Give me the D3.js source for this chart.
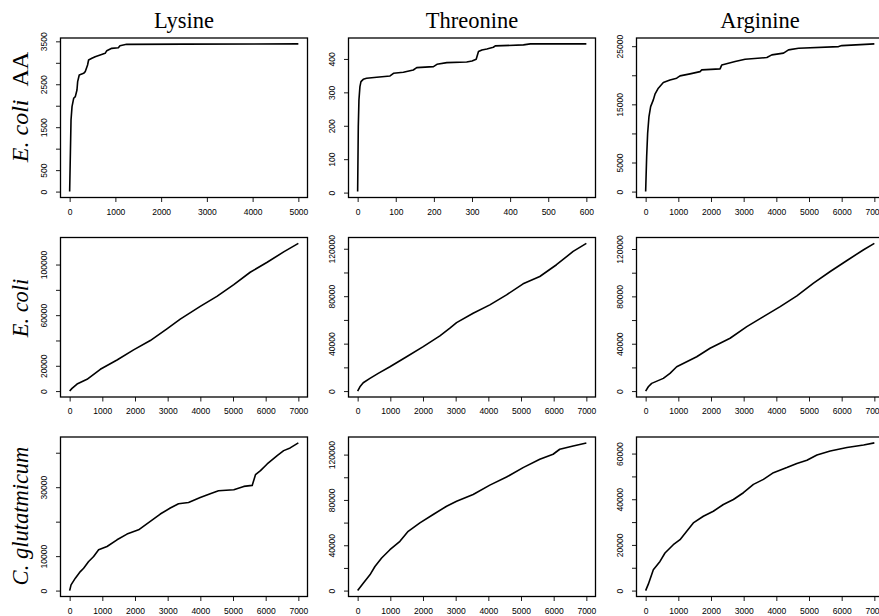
<!DOCTYPE html>
<html>
<head>
<meta charset="utf-8">
<script src="https://cdn.jsdelivr.net/npm/d3@7"></script>
<style>
  body { margin: 0; background: #fff; }
</style>
</head>
<body>
<script>

// column titles and row labels
var aminoAcids = ['Lysine', 'Threonine', 'Arginine'];
var rowLabels = [['E. coli', 'AA'], ['E. coli', ''], ['C. glutatmicum', '']];

// row 1: E. coli AA
var ecoliAALysX = [0, 30, 52, 88, 124, 160, 175, 210, 305, 340, 392, 414, 486, 558, 667, 776, 812, 920, 1065, 1100, 1245, 2500, 5000];
var ecoliAALysY = [0, 1669, 1978, 2173, 2211, 2367, 2560, 2716, 2755, 2793, 2949, 3065, 3104, 3142, 3181, 3220, 3282, 3337, 3350, 3398, 3430, 3436, 3440];

var ecoliAAThrX = [0, 1.7, 3.4, 6, 8.7, 14.7, 23.5, 50, 85, 94, 120, 146, 155, 199, 208, 234, 286, 300, 311, 317, 326, 339, 356, 361, 435, 453, 600];
var ecoliAAThrY = [3, 197, 277, 317, 332, 339, 342, 345, 349, 357, 360, 367, 374, 377, 384, 389, 391, 394, 399, 422, 427, 430, 435, 439, 442, 445, 445];

var ecoliAAArgX = [0, 31, 61, 102, 153, 235, 286, 388, 541, 745, 950, 1052, 1358, 1665, 1717, 2278, 2330, 2738, 3044, 3710, 3862, 4220, 4372, 4680, 5905, 6007, 7000];
var ecoliAAArgY = [0, 6018, 10040, 12900, 14615, 15770, 16750, 17780, 18740, 19200, 19500, 19890, 20240, 20630, 20920, 21100, 21780, 22350, 22760, 23040, 23500, 23800, 24360, 24650, 24930, 25100, 25390];

// row 2: E. coli
var ecoliLysX = [0, 73, 226, 532, 939, 1450, 1957, 2468, 2978, 3385, 3997, 4507, 5024, 5526, 6046, 6551, 7000];
var ecoliLysY = [0, 2140, 5560, 9290, 17220, 24600, 32540, 39920, 49200, 56900, 66900, 74840, 84100, 93900, 101800, 110000, 116700];

var ecoliThrX = [0, 70, 171, 376, 630, 988, 1498, 2007, 2517, 2823, 3028, 3535, 4046, 4557, 5064, 5575, 6086, 6596, 7000];
var ecoliThrY = [0, 3640, 7020, 10700, 14960, 20540, 29000, 37480, 46490, 52990, 57740, 65680, 72700, 81150, 90450, 96620, 106510, 117750, 124500];

var ecoliArgX = [0, 82, 184, 541, 745, 950, 1563, 1971, 2584, 3096, 3605, 4117, 4629, 5138, 5650, 6162, 6671, 7000];
var ecoliArgY = [0, 3640, 6520, 10750, 14990, 20570, 29040, 36150, 44620, 54450, 62910, 71380, 80440, 91200, 101020, 110330, 119390, 124730];

// row 3: C. glutatmicum
var cgluLysX = [0, 43, 174, 327, 428, 581, 734, 887, 1144, 1450, 1755, 2110, 2468, 2774, 3080, 3333, 3639, 3997, 4303, 4556, 5024, 5330, 5587, 5688, 5841, 6046, 6352, 6551, 6749, 7000];
var cgluLysY = [0, 1660, 3600, 5520, 6500, 8430, 9880, 11830, 12790, 14740, 16390, 17640, 20060, 22210, 23950, 25200, 25580, 27030, 28110, 28980, 29270, 30230, 30520, 33630, 34800, 36740, 39160, 40610, 41400, 42850];

var cgluThrX = [0, 171, 376, 529, 734, 988, 1294, 1547, 1905, 2312, 2722, 3028, 3535, 4046, 4557, 5064, 5575, 5982, 6186, 6596, 7000];
var cgluThrY = [0, 6560, 13920, 21280, 28720, 36080, 43440, 52300, 59750, 67110, 74470, 78900, 84840, 93090, 100180, 108510, 115870, 120300, 124730, 127660, 130320];

var cgluArgX = [0, 82, 235, 439, 592, 846, 1052, 1257, 1459, 1766, 2072, 2379, 2686, 2992, 3299, 3605, 3912, 4322, 4629, 4936, 5243, 5650, 6162, 6671, 7000];
var cgluArgY = [0, 2820, 9110, 12760, 16450, 20100, 22300, 25960, 29650, 32560, 34760, 37700, 39900, 42850, 46500, 48700, 51650, 53850, 55610, 57060, 59390, 61150, 62650, 63790, 64670];

// tick values and the labels R actually printed
var xTicks5000 = [0, 1000, 2000, 3000, 4000, 5000];
var xTicks600 = [0, 100, 200, 300, 400, 500, 600];
var xTicks7000 = [0, 1000, 2000, 3000, 4000, 5000, 6000, 7000];

var yTicks3500 = [0, 500, 1000, 1500, 2000, 2500, 3000, 3500];
var yLabels3500 = [0, 500, 1500, 2500, 3500];
var yTicks400 = [0, 100, 200, 300, 400];
var yTicks25000 = [0, 5000, 10000, 15000, 20000, 25000];
var yLabels25000 = [0, 5000, 15000, 25000];
var yTicks100000 = [0, 20000, 40000, 60000, 80000, 100000];
var yLabels100000 = [0, 20000, 60000, 100000];
var yTicks120000 = [0, 20000, 40000, 60000, 80000, 100000, 120000];
var yLabels120000 = [0, 40000, 80000, 120000];
var yTicks40000 = [0, 10000, 20000, 30000, 40000];
var yLabels40000 = [0, 10000, 30000];
var yTicks60000 = [0, 10000, 20000, 30000, 40000, 50000, 60000];
var yLabels60000 = [0, 20000, 40000, 60000];

var panels = [
  { x: ecoliAALysX, y: ecoliAALysY, xt: xTicks5000, yt: yTicks3500, yl: yLabels3500 },
  { x: ecoliAAThrX, y: ecoliAAThrY, xt: xTicks600, yt: yTicks400, yl: yTicks400 },
  { x: ecoliAAArgX, y: ecoliAAArgY, xt: xTicks7000, yt: yTicks25000, yl: yLabels25000 },
  { x: ecoliLysX, y: ecoliLysY, xt: xTicks7000, yt: yTicks100000, yl: yLabels100000 },
  { x: ecoliThrX, y: ecoliThrY, xt: xTicks7000, yt: yTicks120000, yl: yLabels120000 },
  { x: ecoliArgX, y: ecoliArgY, xt: xTicks7000, yt: yTicks120000, yl: yLabels120000 },
  { x: cgluLysX, y: cgluLysY, xt: xTicks7000, yt: yTicks40000, yl: yLabels40000 },
  { x: cgluThrX, y: cgluThrY, xt: xTicks7000, yt: yTicks120000, yl: yLabels120000 },
  { x: cgluArgX, y: cgluArgY, xt: xTicks7000, yt: yTicks60000, yl: yLabels60000 }
];

// layout of the 3x3 grid (R mfrow style)
var colLeft = [60.5, 348.5, 636.5];
var rowTop = [38, 237.5, 437];
var plotW = 247;
var plotH = 159.5;

var svg = d3.select('body')
  .append('svg')
  .attr('width', 879)
  .attr('height', 616)
  .style('display', 'block');

// R pads the data range by 4% on each side
function padded(values) {
  var ext = d3.extent(values);
  var pad = (ext[1] - ext[0]) * 0.04;
  return [ext[0] - pad, ext[1] + pad];
}

panels.forEach(function(p, i) {
  var row = Math.floor(i / 3);
  var col = i % 3;

  var g = svg.append('g')
    .attr('transform', 'translate(' + colLeft[col] + ',' + rowTop[row] + ')');

  var x = d3.scaleLinear().domain(padded(p.x)).range([0, plotW]);
  var y = d3.scaleLinear().domain(padded(p.y)).range([plotH, 0]);

  var xAxis = g.append('g')
    .attr('transform', 'translate(0,' + plotH + ')')
    .call(d3.axisBottom(x).tickValues(p.xt).tickSize(4.5).tickFormat(d3.format('d')));

  xAxis.select('.domain').remove();
  xAxis.selectAll('line').attr('stroke', '#000').attr('stroke-width', 0.9);
  xAxis.selectAll('text')
    .attr('y', 17)
    .attr('dy', 0)
    .attr('fill', '#000')
    .style('font-family', '"Liberation Sans", Arial, sans-serif')
    .style('font-size', '8.5px');

  var yAxis = g.append('g')
    .call(d3.axisLeft(y).tickValues(p.yt).tickSize(4.5).tickFormat(function(d) {
      return p.yl.indexOf(d) >= 0 ? String(d) : '';
    }));

  yAxis.select('.domain').remove();
  yAxis.selectAll('line').attr('stroke', '#000').attr('stroke-width', 0.9);
  yAxis.selectAll('text')
    .attr('x', 0)
    .attr('dy', 0)
    .attr('text-anchor', 'middle')
    .attr('transform', 'translate(-14,0) rotate(-90)')
    .attr('fill', '#000')
    .style('font-family', '"Liberation Sans", Arial, sans-serif')
    .style('font-size', '8.5px');

  var line = d3.line()
    .x(function(d) { return x(d[0]); })
    .y(function(d) { return y(d[1]); });

  g.append('path')
    .datum(d3.zip(p.x, p.y))
    .attr('d', line)
    .attr('fill', 'none')
    .attr('stroke', '#000')
    .attr('stroke-width', 1.6)
    .attr('stroke-linejoin', 'round');

  // box round the plot region
  g.append('rect')
    .attr('x', 0)
    .attr('y', 0)
    .attr('width', plotW)
    .attr('height', plotH)
    .attr('fill', 'none')
    .attr('stroke', '#000')
    .attr('stroke-width', 1.3);
});

// column titles
svg.selectAll('text.title')
  .data(aminoAcids)
  .enter()
  .append('text')
  .attr('class', 'title')
  .attr('x', function(d, i) { return colLeft[i] + plotW / 2; })
  .attr('y', 27.5)
  .attr('text-anchor', 'middle')
  .style('font-family', '"Liberation Serif", "Times New Roman", serif')
  .style('font-size', '22.5px')
  .text(function(d) { return d; });

// row labels, species name in italics
var rowCenter = [107, 308, 516];
var rowSize = ['24px', '22.5px', '22.5px'];
rowLabels.forEach(function(lab, i) {
  var t = svg.append('text')
    .attr('transform', 'translate(28,' + rowCenter[i] + ') rotate(-90)')
    .attr('text-anchor', 'middle')
    .style('font-family', '"Liberation Serif", "Times New Roman", serif')
    .style('font-size', rowSize[i]);
  t.append('tspan').style('font-style', 'italic').text(lab[0]);
  if (lab[1]) {
    t.append('tspan').attr('dx', 13).text(lab[1]);
  }
});

</script>
</body>
</html>
